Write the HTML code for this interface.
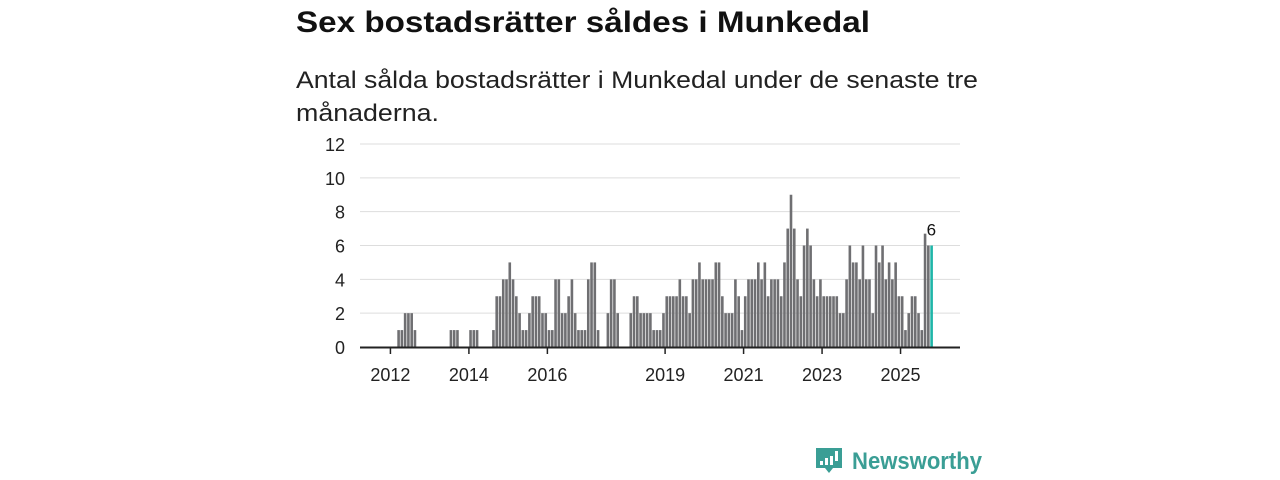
<!DOCTYPE html>
<html><head><meta charset="utf-8"><style>
html,body{margin:0;padding:0;background:#fff;width:1280px;height:480px;overflow:hidden;font-family:"Liberation Sans",sans-serif}
</style></head><body>
<svg width="1280" height="480" viewBox="0 0 1280 480" xmlns="http://www.w3.org/2000/svg">
<text x="296" y="32" font-size="30" font-weight="bold" fill="#111" textLength="574" lengthAdjust="spacingAndGlyphs">Sex bostadsrätter såldes i Munkedal</text>
<text x="296" y="88" font-size="24" fill="#222" textLength="682" lengthAdjust="spacingAndGlyphs">Antal sålda bostadsrätter i Munkedal under de senaste tre</text>
<text x="296" y="121" font-size="24" fill="#222" textLength="143" lengthAdjust="spacingAndGlyphs">månaderna.</text>
<g id="grid"></g>
<g id="bars"></g>
<g id="axes"></g>
<g>
<path d="M816 448h26v20h-9l-4 5-4-5h-9z" fill="#3a9e95"/>
<rect x="820" y="461" width="3" height="4" fill="#fff"/>
<rect x="825" y="458" width="3" height="7" fill="#fff"/>
<rect x="830" y="456" width="3" height="9" fill="#fff"/>
<rect x="835" y="451" width="3" height="10" fill="#fff"/>
<text x="852" y="469" font-size="24" font-weight="bold" fill="#3a9e95" textLength="130" lengthAdjust="spacingAndGlyphs">Newsworthy</text>
</g>
</svg>
<script>
const values = [1,1,2,2,2,1,0,0,0,0,0,0,0,0,0,0,1,1,1,0,0,0,1,1,1,0,0,0,0,
1,3,3,4,4,5,4,3,2,1,1,2,3,3,3,2,2,1,1,4,4,2,2,3,4,2,1,1,1,
4,5,5,1,0,0,2,4,4,2,0,0,0,2,3,3,2,2,2,2,1,1,1,2,
3,3,3,3,4,3,3,2,4,4,5,4,4,4,4,5,5,3,2,2,2,4,3,1,3,4,4,
4,5,4,5,3,4,4,4,3,5,7,9,7,4,3,6,7,6,4,3,4,3,3,3,3,3,2,2,4,6,5,5,4,6,4,4,2,6,5,6,4,5,4,5,3,3,1,2,3,3,2,1,6.7,6,6];
const yTicks = [0,2,4,6,8,10,12];
const xTickYears = [2012,2014,2016,2019,2021,2023,2025];
const lastLabel = "6";

const NS="http://www.w3.org/2000/svg";
const x0=397.3, step=3.27, barW=2.6;
function xIdx(i){return x0+i*step;}
function xYear(y){return x0+((y-2012)*12-2.5)*step+1.3;}
function yVal(v){return 347-v*(203/12);}
function mk(tag,attrs,parent){const e=document.createElementNS(NS,tag);for(const k in attrs)e.setAttribute(k,attrs[k]);parent.appendChild(e);return e;}

const grid=document.getElementById('grid');
yTicks.forEach(t=>{
  if(t>0){const l=mk('line',{x1:360,x2:960,y1:yVal(t),y2:yVal(t),stroke:'#ddd','stroke-width':1},grid);
  
  }
  const tx=mk('text',{x:345,y:yVal(t)+7,'font-size':18,fill:'#222','text-anchor':'end'},grid);
  tx.textContent=t;
  
  
});
const bars=document.getElementById('bars');
values.forEach((v,i)=>{
  if(v<=0)return;
  const last=i===values.length-1;
  const r=mk('rect',{x:xIdx(i),y:yVal(v),width:barW,height:347-yVal(v),fill:last?'#1fb5a8':'#6f6f72'},bars);
  
  
});
const li=values.length-1;
const lbl=mk('text',{x:xIdx(li)+1,y:yVal(values[li])-10,'font-size':17,fill:'#111','text-anchor':'middle'},bars);
lbl.textContent=lastLabel;


const axes=document.getElementById('axes');
const base=mk('line',{x1:360,x2:960,y1:347.5,y2:347.5,stroke:'#222','stroke-width':2},axes);


xTickYears.forEach(yr=>{
  const x=xYear(yr);
  const t=mk('line',{x1:x,x2:x,y1:348,y2:354,stroke:'#222','stroke-width':1.5},axes);
  
  
  const tx=mk('text',{x:x,y:381,'font-size':18,fill:'#222','text-anchor':'middle'},axes);
  tx.textContent=yr;
  
  
});
</script>
</body></html>
